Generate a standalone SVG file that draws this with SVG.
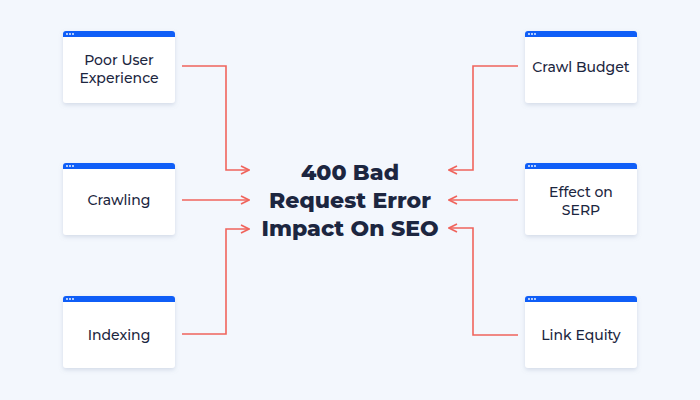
<svg xmlns="http://www.w3.org/2000/svg" width="700" height="400" viewBox="0 0 700 400">
<defs>
<filter id="sh" x="-20%" y="-20%" width="140%" height="150%">
<feDropShadow dx="0" dy="2" stdDeviation="2" flood-color="#8a9ab8" flood-opacity="0.3"/>
</filter>
<marker id="ah" viewBox="0 0 10 10" refX="9" refY="5" markerWidth="10" markerHeight="10" markerUnits="userSpaceOnUse" orient="auto">
<path d="M1,1 L9,5 L1,9" fill="none" stroke="#f0645c" stroke-width="1.6"/>
</marker>
<g id="card">
<rect x="0" y="0" width="112" height="72" rx="3" fill="#ffffff" filter="url(#sh)"/>
<path d="M0,6 V3 a3,3 0 0 1 3,-3 H109 a3,3 0 0 1 3,3 V6 Z" fill="#0f5ef7"/>
<circle cx="4" cy="3" r="0.9" fill="#fff"/><circle cx="7" cy="3" r="0.9" fill="#fff"/><circle cx="10" cy="3" r="0.9" fill="#fff"/>
</g>
</defs>
<style>
.lbl{font-family:"Montserrat","Inter","Noto Sans",sans-serif;font-size:14px;font-weight:500;fill:#1c2640;text-anchor:middle}
.ttl{font-family:"Montserrat","Inter","Noto Sans",sans-serif;font-size:22px;font-weight:800;fill:#1c2640;text-anchor:middle}
.con{fill:none;stroke:#f0645c;stroke-width:1.6;marker-end:url(#ah)}
</style>
<rect width="700" height="400" fill="#f3f7fd"/>
<g id="connectors">
<path class="con" d="M182,66 H226 V170 H249"/>
<path class="con" d="M182,200 H249"/>
<path class="con" d="M182,334 H226 V229 H249"/>
<path class="con" d="M518,66 H473 V170 H449"/>
<path class="con" d="M518,200 H449"/>
<path class="con" d="M518,335 H473 V228 H449"/>
</g>
<g id="n-poor"><use href="#card" x="63" y="31"/><text class="lbl" x="119" y="65">Poor User</text><text class="lbl" x="119" y="83">Experience</text></g>
<g id="n-crawling"><use href="#card" x="63" y="163"/><text class="lbl" x="119" y="205">Crawling</text></g>
<g id="n-indexing"><use href="#card" x="63" y="296"/><text class="lbl" x="119" y="340">Indexing</text></g>
<g id="n-budget"><use href="#card" x="525" y="31"/><text class="lbl" x="581" y="72">Crawl Budget</text></g>
<g id="n-serp"><use href="#card" x="525" y="163"/><text class="lbl" x="581" y="197">Effect on</text><text class="lbl" x="581" y="215">SERP</text></g>
<g id="n-equity"><use href="#card" x="525" y="296"/><text class="lbl" x="581" y="340">Link Equity</text></g>
<g id="center"><text class="ttl" x="350" y="180">400 Bad</text><text class="ttl" x="350" y="208">Request Error</text><text class="ttl" x="350" y="236">Impact On SEO</text></g>
</svg>
